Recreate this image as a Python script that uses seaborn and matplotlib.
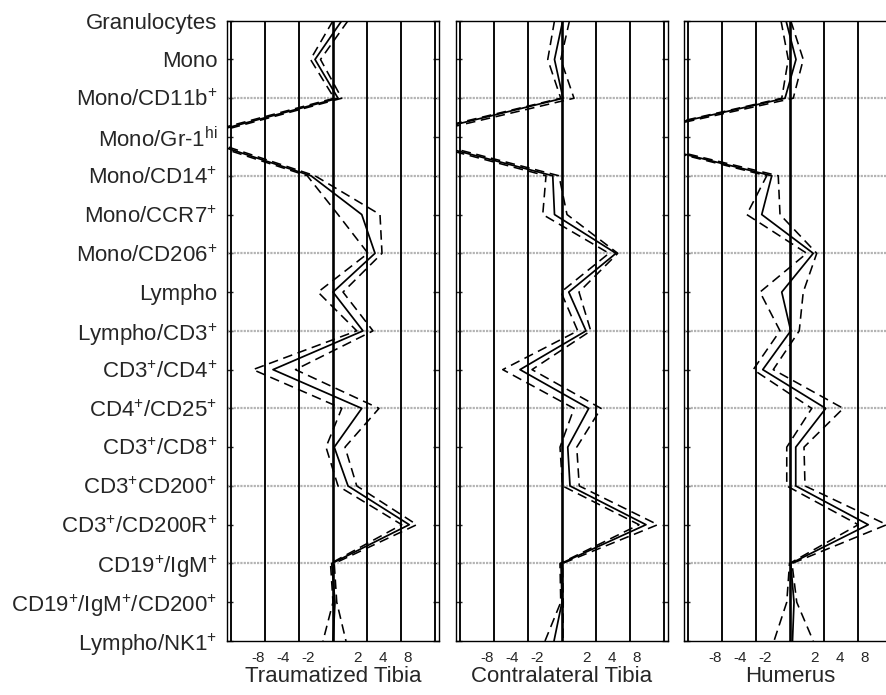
import numpy as np
import pandas as pd
import matplotlib
matplotlib.use("Agg")
import matplotlib.pyplot as plt
import seaborn as sns

# ---------------- data ----------------
categories = [
    "Granulocytes", "Mono", "Mono/CD11b$^{+}$", "Mono/Gr-1$^{\\mathrm{hi}}$",
    "Mono/CD14$^{+}$", "Mono/CCR7$^{+}$", "Mono/CD206$^{+}$", "Lympho",
    "Lympho/CD3$^{+}$", "CD3$^{+}$/CD4$^{+}$", "CD4$^{+}$/CD25$^{+}$",
    "CD3$^{+}$/CD8$^{+}$", "CD3$^{+}$CD200$^{+}$", "CD3$^{+}$/CD200R$^{+}$",
    "CD19$^{+}$/IgM$^{+}$", "CD19$^{+}$/IgM$^{+}$/CD200$^{+}$", "Lympho/NK1$^{+}$",
]
panel_titles = ["Traumatized Tibia", "Contralateral Tibia", "Humerus"]
tick_values = [-3, -2, -1, 1, 2, 3]
tick_labels = ["-8", "-4", "-2", "2", "4", "8"]

# log2 fold change (mean and confidence bounds)
trauma_mean = [0.35, -0.72, 0.2, -5.6, -0.88, 1.15, 1.68, 0.0, 1.2, -2.4, 1.15, 0.05, 0.6, 3.05, -0.05, 0.08, 0.0]
trauma_lo = [0.0, -0.9, 0.05, -5.8, -1.03, 0.2, 1.4, -0.6, 0.95, -3.2, 0.35, -0.28, 0.2, 2.75, -0.1, 0.0, -0.4]
trauma_hi = [0.6, -0.5, 0.35, -5.4, -0.72, 1.88, 1.96, 0.4, 1.6, -1.5, 1.84, 0.48, 0.95, 3.35, 0.05, 0.15, 0.52]

contra_mean = [0.03, -0.3, 0.04, -6.3, -0.37, -0.3, 2.16, 0.27, 0.96, -1.68, 1.07, 0.23, 0.32, 3.36, -0.04, 0.0, -0.32]
contra_lo = [-0.3, -0.57, -0.05, -6.5, -0.64, -0.77, 1.88, -0.04, 0.63, -2.37, 0.48, -0.08, 0.02, 3.08, -0.08, -0.05, -0.68]
contra_hi = [0.3, -0.05, 0.48, -6.1, -0.12, 0.2, 2.23, 0.68, 1.15, -1.2, 1.56, 0.59, 0.69, 3.83, 0.02, 0.05, 0.04]

humerus_mean = [-0.16, 0.24, -0.2, -7.0, -0.73, -1.13, 0.93, -0.33, 0.03, -1.09, 1.43, 0.23, 0.23, 3.13, 0.03, 0.16, 0.1]
humerus_lo = [-0.36, -0.07, -0.33, -7.1, -0.93, -1.73, 0.67, -1.2, -0.4, -1.47, 0.87, -0.13, -0.13, 2.73, -0.02, -0.13, -0.64]
humerus_hi = [0.03, 0.53, 0.13, -6.9, -0.47, -0.4, 1.07, 0.53, 0.37, -0.67, 2.13, 0.56, 0.6, 3.87, 0.08, 0.27, 0.93]

panels = [
    (trauma_mean, trauma_lo, trauma_hi),
    (contra_mean, contra_lo, contra_hi),
    (humerus_mean, humerus_lo, humerus_hi),
]

# ---------------- style ----------------
sns.set_style("white")
plt.rcParams["font.family"] = ["Liberation Sans", "DejaVu Sans"]
plt.rcParams["mathtext.fontset"] = "custom"
plt.rcParams["mathtext.rm"] = "Liberation Sans"
plt.rcParams["mathtext.it"] = "Liberation Sans:italic"
plt.rcParams["mathtext.bf"] = "Liberation Sans:bold"

W, H = 887, 695
fig = plt.figure(figsize=(W / 100, H / 100), dpi=100)

ax_left_px = [227, 456, 684]
ax_w_px = 212
top_px, bot_px = 20.7, 641
XLIM = 4.24
grid_step = 1.36

pos = np.arange(len(categories))

for i, ((m, lo, hi), title) in enumerate(zip(panels, panel_titles)):
    ax = fig.add_axes([ax_left_px[i] / W, 1 - bot_px / H, ax_w_px / W, (bot_px - top_px) / H])
    # horizontal dotted gray lines
    for k in range(2, len(categories) - 1, 2):
        ax.axhline(k, color="#b4b4b4", lw=1.6, ls=(0, (1, 0.5)), zorder=1)
    # vertical grid lines
    for k in (-3, -2, -1, 1, 2, 3):
        ax.axvline(k * grid_step, color="black", lw=1.35, zorder=1)
    ax.axvline(0, color="black", lw=1.9, zorder=1)

    df = pd.DataFrame({"pos": pos, "mean": m, "lo": lo, "hi": hi})
    sns.lineplot(data=df, x="mean", y="pos", orient="y", sort=False, estimator=None,
                 color="black", lw=1.25, ax=ax, legend=False, zorder=3)
    for col in ("lo", "hi"):
        sns.lineplot(data=df, x=col, y="pos", orient="y", sort=False, estimator=None,
                     color="black", lw=1.15, linestyle=(0, (6, 3.5)), ax=ax, legend=False, zorder=3)

    ax.set_xlim(-XLIM, XLIM)
    ax.set_ylim(len(categories) - 1, 0)
    ax.set_yticks(pos)
    if i == 0:
        ax.set_yticklabels(categories, fontsize=16)
    else:
        ax.set_yticklabels([])
    ax.tick_params(axis="y", direction="in", left=True, right=True, length=4, width=1.0, pad=7)
    ax.set_xticks(tick_values)
    ax.set_xticklabels(tick_labels, fontsize=11)
    ax.tick_params(axis="x", length=0, pad=7)
    ax.set_xlabel(title, fontsize=16, labelpad=1)
    ax.set_ylabel("")
    for sp in ax.spines.values():
        sp.set_visible(True)
        sp.set_color("black")
        sp.set_linewidth(1.0)
    ax.grid(False)

fig.savefig("out.png", dpi=100)
